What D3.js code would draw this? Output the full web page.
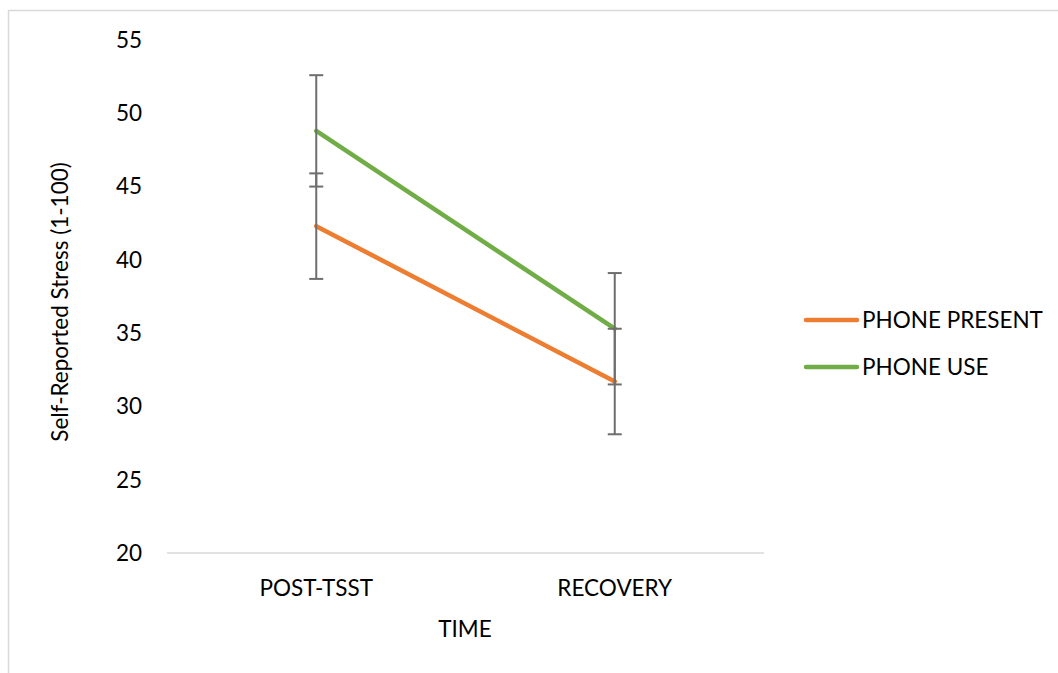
<!DOCTYPE html>
<html>
<head>
<meta charset="utf-8">
<script src="https://cdn.jsdelivr.net/npm/d3@7"></script>
<style>
  html, body { margin: 0; padding: 0; background: #fff; }
  svg text { font-family: Lato, "Open Sans", sans-serif; fill: #000; }
</style>
</head>
<body>
<div id="chart"></div>
<script>
const categories = ['POST-TSST', 'RECOVERY'];
const seriesNames = ['PHONE PRESENT', 'PHONE USE'];
const phonePresent = [42.3, 31.7];
const phoneUse = [48.8, 35.3];
const presentErr = [3.6, 3.6];
const useErr = [3.8, 3.8];
const yTicks = [20, 25, 30, 35, 40, 45, 50, 55];

const width = 1058, height = 673;
const colors = ['#ED7D31', '#70AD47'];
const fontSize = 22.5;

const svg = d3.select('#chart').append('svg')
  .attr('width', width).attr('height', height);

// chart frame
svg.append('rect')
  .attr('x', 8.5).attr('y', 10.5)
  .attr('width', width + 20).attr('height', height + 20)
  .attr('fill', 'none').attr('stroke', '#d9d9d9').attr('stroke-width', 1.5);

const x = d3.scaleBand().domain(categories).range([167, 764]);
const y = d3.scaleLinear().domain([20, 55]).range([553, 40]);

// baseline
svg.append('line')
  .attr('x1', 167).attr('x2', 764)
  .attr('y1', y(20)).attr('y2', y(20))
  .attr('stroke', '#d9d9d9').attr('stroke-width', 1.5);

// y tick labels
svg.selectAll('text.ytick')
  .data(yTicks)
  .join('text')
  .attr('class', 'ytick')
  .attr('x', 142)
  .attr('y', d => y(d))
  .attr('dy', '0.35em')
  .attr('text-anchor', 'end')
  .attr('font-size', fontSize)
  .text(d => d);

// x tick labels
svg.selectAll('text.xtick')
  .data(categories)
  .join('text')
  .attr('class', 'xtick')
  .attr('x', d => x(d) + x.bandwidth() / 2)
  .attr('y', 596)
  .attr('text-anchor', 'middle')
  .attr('font-size', fontSize)
  .text(d => d);

// axis titles
svg.append('text')
  .attr('x', 465).attr('y', 637)
  .attr('text-anchor', 'middle')
  .attr('font-size', fontSize)
  .text('TIME');

svg.append('text')
  .attr('transform', 'translate(68,302) rotate(-90)')
  .attr('text-anchor', 'middle')
  .attr('font-size', fontSize)
  .text('Self-Reported Stress (1-100)');

const series = [
  { name: seriesNames[0], values: phonePresent, err: presentErr, color: colors[0] },
  { name: seriesNames[1], values: phoneUse, err: useErr, color: colors[1] }
];

const line = d3.line()
  .x((d, i) => x(categories[i]) + x.bandwidth() / 2)
  .y(d => y(d));

// lines
series.forEach(s => {
  svg.append('path')
    .datum(s.values)
    .attr('d', line)
    .attr('fill', 'none')
    .attr('stroke', s.color)
    .attr('stroke-width', 4.5)
    .attr('stroke-linecap', 'round');
});

// error bars
const capW = 7;
series.forEach(s => {
  const g = svg.append('g').attr('stroke', '#6e6e6e').attr('stroke-width', 2);
  s.values.forEach((v, i) => {
    const cx = x(categories[i]) + x.bandwidth() / 2;
    const hi = y(v + s.err[i]), lo = y(v - s.err[i]);
    g.append('line').attr('x1', cx).attr('x2', cx).attr('y1', hi).attr('y2', lo);
    g.append('line').attr('x1', cx - capW).attr('x2', cx + capW).attr('y1', hi).attr('y2', hi);
    g.append('line').attr('x1', cx - capW).attr('x2', cx + capW).attr('y1', lo).attr('y2', lo);
  });
});

// legend
const legend = svg.append('g');
series.forEach((s, i) => {
  const ly = 320 + i * 47;
  legend.append('line')
    .attr('x1', 806).attr('x2', 857)
    .attr('y1', ly).attr('y2', ly)
    .attr('stroke', s.color).attr('stroke-width', 4.5)
    .attr('stroke-linecap', 'round');
  legend.append('text')
    .attr('x', 862).attr('y', ly)
    .attr('dy', '0.35em')
    .attr('font-size', fontSize)
    .text(s.name);
});
</script>
</body>
</html>
